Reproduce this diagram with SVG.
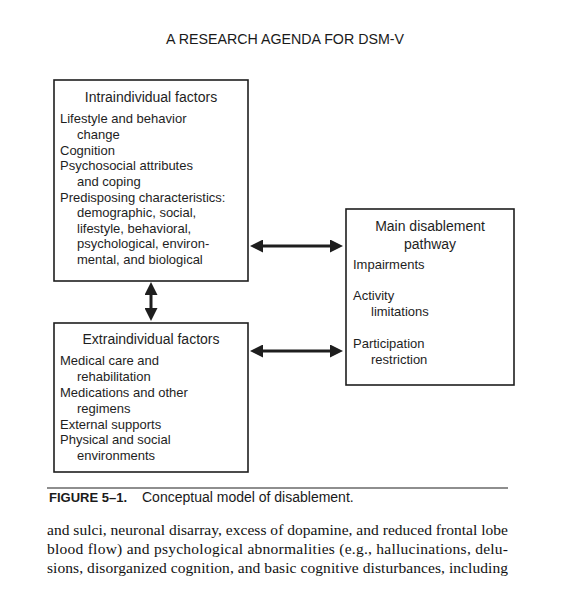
<svg xmlns="http://www.w3.org/2000/svg" width="580" height="600" viewBox="0 0 580 600">
<style>
  .bg{fill:#ffffff}
  .box{fill:#ffffff;stroke:#1e1e1e;stroke-width:1.6}
  .t{font-family:"Liberation Sans",Arial,sans-serif;font-size:13px;fill:#1e1e1e}
  .h{font-family:"Liberation Sans",Arial,sans-serif;font-size:14px;fill:#1e1e1e;text-anchor:middle}
  .conn{stroke:#1e1e1e;stroke-width:3;fill:none;marker-start:url(#ah);marker-end:url(#ah)}
  .body{font-family:"Liberation Serif","Times New Roman",serif;font-size:15.5px;fill:#111}
</style>
<defs>
  <marker id="ah" viewBox="0 0 13 13" refX="3" refY="6.5" markerWidth="13" markerHeight="13" markerUnits="userSpaceOnUse" orient="auto-start-reverse">
    <path d="M0,0 L13,6.5 L0,13 z" fill="#1e1e1e"/>
  </marker>
</defs>
<rect class="bg" x="0" y="0" width="580" height="600"/>

<text x="285" y="44" text-anchor="middle" font-family="Liberation Sans, Arial, sans-serif" font-size="14" fill="#1a1a1a" textLength="238" lengthAdjust="spacingAndGlyphs">A RESEARCH AGENDA FOR DSM-V</text>

<g id="intraindividual">
  <rect class="box" x="54" y="80" width="194" height="201"/>
  <text class="h" x="151" y="102">Intraindividual factors</text>
  <text class="t" x="60" y="123">Lifestyle and behavior</text>
  <text class="t" x="77" y="139">change</text>
  <text class="t" x="60" y="155">Cognition</text>
  <text class="t" x="60" y="170">Psychosocial attributes</text>
  <text class="t" x="77" y="186">and coping</text>
  <text class="t" x="60" y="202">Predisposing characteristics:</text>
  <text class="t" x="77" y="217">demographic, social,</text>
  <text class="t" x="77" y="233">lifestyle, behavioral,</text>
  <text class="t" x="77" y="248">psychological, environ-</text>
  <text class="t" x="77" y="264">mental, and biological</text>
</g>

<g id="extraindividual">
  <rect class="box" x="54" y="323" width="194" height="149"/>
  <text class="h" x="151" y="344">Extraindividual factors</text>
  <text class="t" x="60" y="365">Medical care and</text>
  <text class="t" x="77" y="381">rehabilitation</text>
  <text class="t" x="60" y="397">Medications and other</text>
  <text class="t" x="77" y="413">regimens</text>
  <text class="t" x="60" y="429">External supports</text>
  <text class="t" x="60" y="444">Physical and social</text>
  <text class="t" x="77" y="460">environments</text>
</g>

<g id="main-pathway">
  <rect class="box" x="346" y="209" width="168" height="176"/>
  <text class="h" x="430" y="231">Main disablement</text>
  <text class="h" x="430" y="249">pathway</text>
  <text class="t" x="353" y="269">Impairments</text>
  <text class="t" x="353" y="300">Activity</text>
  <text class="t" x="371" y="316">limitations</text>
  <text class="t" x="353" y="348">Participation</text>
  <text class="t" x="371" y="364">restriction</text>
</g>

<g id="connectors">
  <line class="conn" x1="260" y1="246" x2="333" y2="246"/>
  <line class="conn" x1="260" y1="351" x2="333" y2="351"/>
  <line class="conn" x1="151" y1="292" x2="151" y2="311"/>
</g>

<line x1="47" y1="488" x2="508" y2="488" stroke="#1e1e1e" stroke-width="1.2"/>
<text x="49" y="502" font-family="Liberation Sans, Arial, sans-serif" font-size="13" font-weight="bold" fill="#1a1a1a">FIGURE 5–1.</text>
<text x="142" y="502" font-family="Liberation Sans, Arial, sans-serif" font-size="14" fill="#1a1a1a">Conceptual model of disablement.</text>

<text class="body" x="47" y="535" textLength="461" lengthAdjust="spacing">and sulci, neuronal disarray, excess of dopamine, and reduced frontal lobe</text>
<text class="body" x="47" y="554" textLength="461" lengthAdjust="spacing">blood flow) and psychological abnormalities (e.g., hallucinations, delu-</text>
<text class="body" x="47" y="573" textLength="461" lengthAdjust="spacing">sions, disorganized cognition, and basic cognitive disturbances, including</text>
</svg>
